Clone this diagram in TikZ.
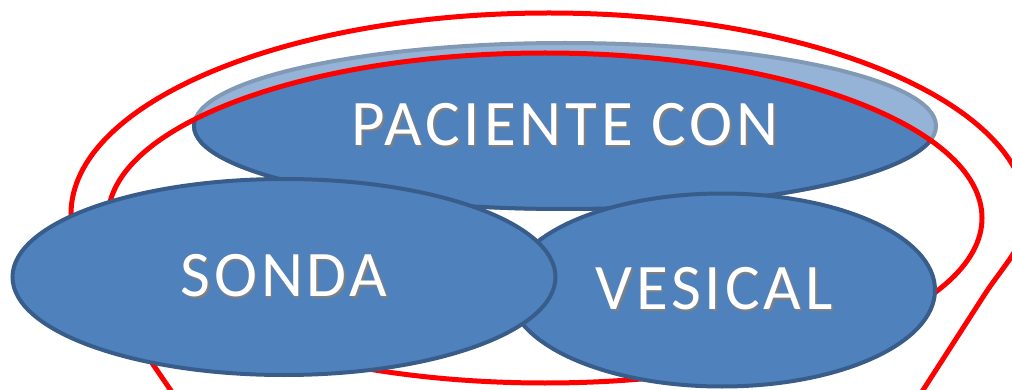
\documentclass[tikz,border=0pt]{standalone}
\usepackage{fontspec}
\setmainfont{Carlito}
\newfontfamily\bubblefont[LetterSpace=6]{Carlito}
\usetikzlibrary{shapes.geometric}

\definecolor{bubbleblue}{HTML}{4F81BD}
\definecolor{bubbleedge}{HTML}{385D8A}
\definecolor{fadeblue}{HTML}{95B3D7}
\definecolor{fadeedge}{HTML}{8199B5}

% white letters with a soft grey shadow
\newcommand{\bevel}[1]{\makebox[0pt][l]{\hspace{1.8pt}\raisebox{-1.8pt}{\textcolor{black!50}{#1}}}#1}

\begin{document}
\begin{tikzpicture}[x=1pt, y=-1pt,
		bubble/.style={ellipse, fill=bubbleblue, draw=bubbleedge, line width=4pt,
			inner sep=0pt, text=white, font=\bubblefont\fontsize{65}{70}\selectfont},
		ring/.style={draw=red, line width=5pt}]
	\useasboundingbox (0, 0) rectangle (1012, 390);
	\clip (0, 0) rectangle (1012, 390);

	% top bubble, lighter outside the inner ring
	\filldraw[fadeblue, draw=fadeedge, line width=4pt]
		(565, 126) ellipse [x radius=371, y radius=83];
	\begin{scope}
		\clip (545, 218) ellipse [x radius=437, y radius=165];
		\node[bubble, minimum width=742pt, minimum height=166pt] (paciente)
			at (565, 126) {\bevel{PACIENTE CON}};
	\end{scope}

	% red rings
	\draw[ring] (545, 218) ellipse [x radius=437, y radius=165];
	\draw[ring] (71, 214) arc[start angle=180, end angle=360, x radius=478, y radius=201]
		.. controls (1027, 244) and (1002, 267) .. (983, 297) -- (820, 550)
		.. controls (740, 680) and (360, 680) .. (280, 550) -- (150, 360)
		.. controls (100, 290) and (71, 250) .. cycle;

	\node[bubble, minimum width=426pt, minimum height=193pt] (vesical)
		at (722, 290) {\bevel{VESICAL}\kern16pt};
	\node[bubble, minimum width=543pt, minimum height=196pt] (sonda)
		at (284, 277) {\bevel{SONDA}};
\end{tikzpicture}
\end{document}
